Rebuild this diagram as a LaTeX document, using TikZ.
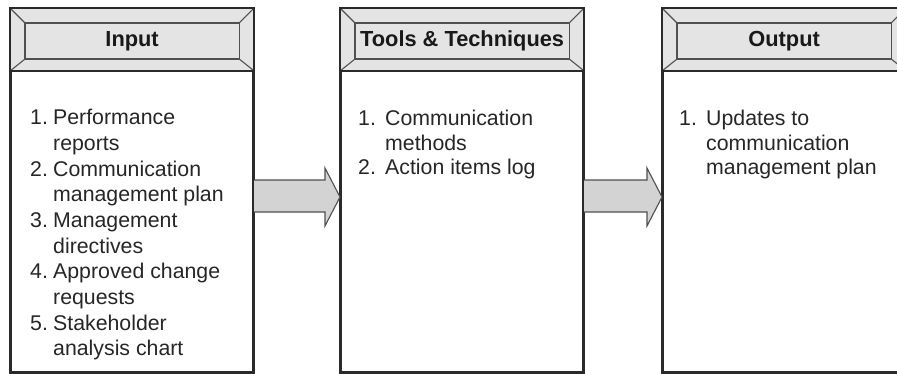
\documentclass[tikz,border=0pt]{standalone}
\usepackage{fontspec}
\setmainfont{Liberation Sans}
\usetikzlibrary{calc}
\definecolor{hdrgray}{HTML}{E4E4E4}
\definecolor{arrgray}{HTML}{D3D3D3}
\definecolor{edge}{HTML}{2A2A2A}
\definecolor{bevel}{HTML}{505050}
\tikzset{
  panel/.style={draw=edge, line width=2.2pt, fill=white, minimum width=242pt, minimum height=363pt, inner sep=0pt, anchor=north west},
  hdrtext/.style={font=\bfseries\fontsize{21.8}{25}\selectfont, text=black!90, inner sep=0pt},
  itemtext/.style={font=\fontsize{21.3}{25.7}\selectfont, text=black!85, align=left, inner sep=0pt, anchor=north west},
  itemtextb/.style={itemtext, font=\fontsize{21.3}{24.6}\selectfont},
  fatarrow/.style={draw=bevel, line width=1.1pt, fill=arrgray, line join=miter},
}
\newcommand{\hdr}[2]{% #1 panel name, #2 label
  \fill[hdrgray] (#1.north west) rectangle ($(#1.north east)+(0,63)$);
  \draw[bevel, line width=1.1pt] ($(#1.north west)+(15,15)$) rectangle ($(#1.north east)+(-15,51)$);
  \draw[bevel, line width=1.1pt] (#1.north west) -- ++(15,15);
  \draw[bevel, line width=1.1pt] (#1.north east) -- ++(-15,15);
  \draw[bevel, line width=1.1pt] ($(#1.north west)+(0,63)$) -- ++(15,-12);
  \draw[bevel, line width=1.1pt] ($(#1.north east)+(0,63)$) -- ++(-15,-12);
  \draw[edge, line width=2.2pt] ($(#1.north west)+(0,63)$) -- ($(#1.north east)+(0,63)$);
  \node[hdrtext] (#1h) at ($(#1.north)+(0,33)$) {#2};
}
\newcommand{\fatarr}[2]{% from panel #1 to panel #2
  \draw[fatarrow] ($(#1.north east)+(0,172)$) -- ($(#2.north west)+(-15,172)$) -- ($(#2.north west)+(-15,160)$)
    -- ($(#2.north west)+(0,189)$) -- ($(#2.north west)+(-15,218)$) -- ($(#2.north west)+(-15,204)$)
    -- ($(#1.north east)+(0,204)$);
}
\begin{document}
\begin{tikzpicture}[x=1pt,y=-1pt]
\useasboundingbox (0,0) rectangle (897,373);
\clip (0,0) rectangle (897,373);
\node[panel] (p1) at (10,8) {};
\node[panel] (p2) at (340,8) {};
\node[panel] (p3) at (662,8) {};
\hdr{p1}{Input}
\hdr{p2}{Tools \& Techniques}
\hdr{p3}{Output}
\draw[edge, line width=2.2pt] (p1.north west) rectangle (p1.south east);
\draw[edge, line width=2.2pt] (p2.north west) rectangle (p2.south east);
\draw[edge, line width=2.2pt] (p3.north west) rectangle (p3.south east);
\fatarr{p1}{p2}
\fatarr{p2}{p3}
\node[itemtext] (t1) at ($(p1.north west)+(20,101)$) {%
\makebox[23pt][l]{1.}Performance\\
\hspace*{23pt}reports\\
\makebox[23pt][l]{2.}Communication\\
\hspace*{23pt}management plan\\
\makebox[23pt][l]{3.}Management\\
\hspace*{23pt}directives\\
\makebox[23pt][l]{4.}Approved change\\
\hspace*{23pt}requests\\
\makebox[23pt][l]{5.}Stakeholder\\
\hspace*{23pt}analysis chart};
\node[itemtextb] (t2) at ($(p2.north west)+(18,102)$) {%
\makebox[27pt][l]{1.}Communication\\
\hspace*{27pt}methods\\
\makebox[27pt][l]{2.}Action items log};
\node[itemtextb] (t3) at ($(p3.north west)+(17,102)$) {%
\makebox[27pt][l]{1.}Updates to\\
\hspace*{27pt}communication\\
\hspace*{27pt}management plan};
\end{tikzpicture}
\end{document}
